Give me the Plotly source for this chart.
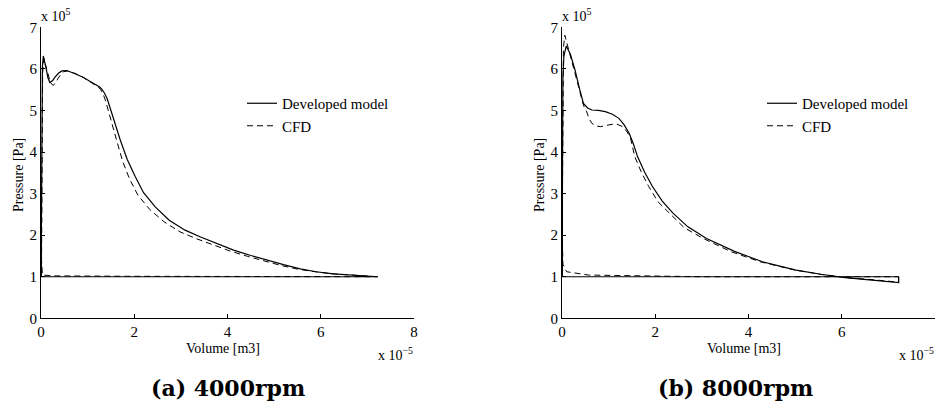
import plotly.graph_objects as go

# ---- data (volume in 1e-5 m3, pressure in 1e5 Pa) ----
# (a) 4000rpm
dev_a_v = [7.22, 6.80, 6.27, 5.90, 5.56, 5.20, 4.84, 4.50, 4.13, 3.75, 3.41, 3.09, 2.75, 2.45, 2.20, 2.02, 1.85, 1.70,
           1.58, 1.48, 1.42, 1.36, 1.30, 1.25, 1.19, 1.05, 0.90, 0.72, 0.55, 0.45, 0.38, 0.30, 0.25, 0.19,
           0.15, 0.12, 0.08, 0.05, 0.03, 0.015, 0.008, 0.01, 0.5, 2.0, 4.0, 6.0, 7.22]
dev_a_p = [1.00, 1.03, 1.07, 1.12, 1.19, 1.29, 1.40, 1.51, 1.64, 1.80, 1.96, 2.12, 2.36, 2.68, 3.02, 3.41, 3.82, 4.29,
           4.72, 5.09, 5.28, 5.42, 5.52, 5.57, 5.61, 5.71, 5.80, 5.89, 5.96, 5.95, 5.90, 5.80, 5.72, 5.67,
           5.78, 5.95, 6.18, 6.31, 6.05, 4.00, 2.00, 1.00, 1.00, 1.00, 1.00, 1.00, 1.00]
cfd_a_v = [7.22, 6.78, 6.25, 5.88, 5.52, 5.15, 4.78, 4.43, 4.05, 3.67, 3.32, 2.98, 2.64, 2.33, 2.08, 1.90, 1.75, 1.63,
           1.52, 1.43, 1.38, 1.33, 1.28, 1.23, 1.17, 1.04, 0.90, 0.73, 0.57, 0.48, 0.42, 0.36, 0.32, 0.26,
           0.21, 0.17, 0.10, 0.06, 0.035, 0.02, 0.012, 0.03, 0.3, 2.0, 4.0, 6.0, 7.22]
cfd_a_p = [1.00, 1.03, 1.07, 1.12, 1.18, 1.27, 1.38, 1.49, 1.62, 1.77, 1.92, 2.08, 2.32, 2.62, 2.96, 3.35, 3.78, 4.25,
           4.70, 5.06, 5.25, 5.40, 5.50, 5.56, 5.60, 5.70, 5.80, 5.89, 5.95, 5.93, 5.86, 5.76, 5.68, 5.60,
           5.66, 5.80, 6.05, 6.25, 5.90, 3.50, 1.40, 1.04, 1.02, 1.01, 1.00, 1.00, 1.00]

# (b) 8000rpm
dev_b_v = [7.22, 7.22, 6.65, 6.07, 5.55, 5.02, 4.65, 4.30, 3.70, 3.10, 2.70, 2.38, 2.15, 1.94, 1.77, 1.62, 1.53, 1.44,
           1.33, 1.22, 1.08, 0.93, 0.78, 0.64, 0.55, 0.46, 0.37, 0.28, 0.18, 0.09, 0.04, 0.02, 0.01, 0.008,
           0.5, 2.0, 4.0, 6.0, 7.22]
dev_b_p = [1.00, 0.86, 0.92, 0.98, 1.06, 1.16, 1.26, 1.36, 1.61, 1.92, 2.20, 2.53, 2.82, 3.17, 3.52, 3.89, 4.20, 4.45,
           4.66, 4.81, 4.91, 4.97, 5.00, 5.01, 5.06, 5.17, 5.55, 5.97, 6.35, 6.55, 6.30, 5.80, 3.50, 1.00,
           1.00, 1.00, 1.00, 1.00, 1.00]
cfd_b_v = [7.22, 7.22, 6.65, 6.07, 5.53, 5.00, 4.62, 4.25, 3.63, 3.03, 2.62, 2.30, 2.06, 1.86, 1.70, 1.56, 1.47, 1.40,
           1.30, 1.20, 1.10, 0.95, 0.82, 0.73, 0.64, 0.58, 0.52, 0.47, 0.44, 0.36, 0.28, 0.20, 0.12, 0.06,
           0.03, 0.01, 0.005, 0.02, 0.10, 0.57, 1.00, 2.00, 3.00, 5.00, 7.22]
cfd_b_p = [1.00, 0.87, 0.93, 0.98, 1.06, 1.16, 1.26, 1.36, 1.60, 1.92, 2.18, 2.53, 2.80, 3.17, 3.52, 3.89, 4.33, 4.48,
           4.61, 4.66, 4.67, 4.64, 4.61, 4.63, 4.69, 4.80, 5.00, 5.10, 5.20, 5.55, 5.90, 6.25, 6.60, 6.81,
           6.50, 4.00, 2.00, 1.30, 1.12, 1.04, 1.03, 1.02, 1.00, 1.00, 1.00]

x_ticks = [0, 2, 4, 6, 8]
y_ticks = [0, 1, 2, 3, 4, 5, 6, 7]
series_names = ["Developed model", "CFD"]
captions = ["(a) 4000rpm", "(b) 8000rpm"]

W, H = 936, 412
SERIF = "Liberation Serif, Times New Roman, serif"

fig = go.Figure()

def add_pair(dv, dp, cv, cp, xa, ya, leg):
    fig.add_trace(go.Scatter(x=dv, y=dp, mode="lines", name=series_names[0],
                             line=dict(color="black", width=1.2),
                             xaxis=xa, yaxis=ya, legend=leg, showlegend=True))
    fig.add_trace(go.Scatter(x=cv, y=cp, mode="lines", name=series_names[1],
                             line=dict(color="black", width=1, dash="6px,4px"),
                             xaxis=xa, yaxis=ya, legend=leg, showlegend=True))

add_pair(dev_a_v, dev_a_p, cfd_a_v, cfd_a_p, "x", "y", "legend")
add_pair(dev_b_v, dev_b_p, cfd_b_v, cfd_b_p, "x2", "y2", "legend2")

ydom = [1 - 318.3 / H, 1 - 27.3 / H]
xdom1 = [41 / W, 414 / W]
xdom2 = [562 / W, 935 / W]

axis_common = dict(showgrid=False, zeroline=False, showline=True, linecolor="black", linewidth=1,
                   ticks="inside", ticklen=4, tickcolor="black", tickwidth=1, automargin=False,
                   tickfont=dict(family=SERIF, size=15, color="black"), mirror=False)

fig.update_layout(
    width=W, height=H, margin=dict(l=0, r=0, t=0, b=0, pad=0, autoexpand=False),
    autosize=False,
    paper_bgcolor="white", plot_bgcolor="white",
    font=dict(family=SERIF, size=14, color="black"),
    xaxis=dict(domain=xdom1, range=[0, 8], tickvals=x_ticks, anchor="y", **axis_common),
    yaxis=dict(domain=ydom, range=[0, 7], tickvals=y_ticks, anchor="x", **axis_common),
    xaxis2=dict(domain=xdom2, range=[0, 8], tickvals=x_ticks, anchor="y2", **axis_common),
    yaxis2=dict(domain=ydom, range=[0, 7], tickvals=y_ticks, anchor="x2", **axis_common),
    legend=dict(x=242 / W, y=1 - 87 / H, xanchor="left", yanchor="top", bgcolor="rgba(0,0,0,0)",
                font=dict(family=SERIF, size=15), tracegroupgap=0, itemwidth=30),
    legend2=dict(x=762 / W, y=1 - 87 / H, xanchor="left", yanchor="top", bgcolor="rgba(0,0,0,0)",
                 font=dict(family=SERIF, size=15), tracegroupgap=0, itemwidth=30),
)

ann = []
for xd in [xdom1, xdom2]:
    x0 = xd[0]
    x1 = xd[1]
    ann.append(dict(x=x0 - 22 / W, y=1 - 175 / H, xref="paper", yref="paper", text="Pressure [Pa]",
                    xanchor="center", yanchor="middle",
                    textangle=-90, showarrow=False, font=dict(family=SERIF, size=14)))
    ann.append(dict(x=(x0 + x1) / 2 - 5 / W, y=1 - 348 / H, xref="paper", yref="paper", text="Volume [m3]",
                    xanchor="center", yanchor="middle",
                    showarrow=False, font=dict(family=SERIF, size=14)))
    ann.append(dict(x=x0 - 2 / W, y=1 - 15 / H, xref="paper", yref="paper", xanchor="left", yanchor="middle",
                    text="x 10<sup>5</sup>", showarrow=False, font=dict(family=SERIF, size=14)))
    ann.append(dict(x=x1 + 1 / W, y=1 - 354 / H, xref="paper", yref="paper", xanchor="right", yanchor="middle",
                    text="x 10<sup>\u22125</sup>", showarrow=False, font=dict(family=SERIF, size=14)))
for cap, cx in zip(captions, [228, 735]):
    ann.append(dict(x=cx / W, y=1 - 388 / H, xref="paper", yref="paper", text="<b>" + cap + "</b>",
                    xanchor="center", yanchor="middle",
                    showarrow=False, font=dict(family="DejaVu Serif, serif", size=22, color="black")))
fig.update_layout(annotations=ann)

fig.write_html("out.html", config={"displayModeBar": False},
               post_script="document.body.style.margin='0';document.body.style.overflow='hidden';"
                           "document.documentElement.style.overflow='hidden';")
